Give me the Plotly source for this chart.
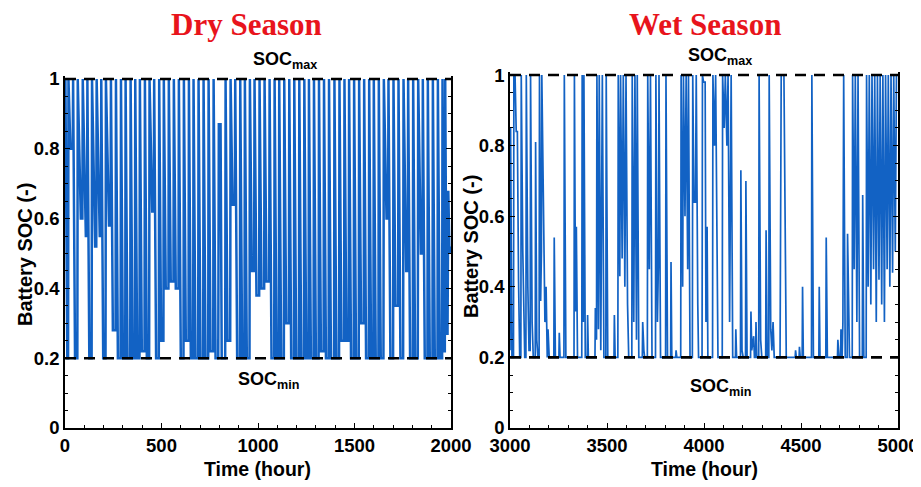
import plotly.graph_objects as go

# ---------------- data ----------------
soc_max = 1.0
soc_min = 0.2

dry_hour = [
    0, 2, 12, 16, 18, 28, 40, 42, 52, 64, 66, 82, 90, 92, 108,
    114, 116, 126, 138, 140, 156, 162, 164, 180, 186, 188, 198, 210, 212, 228,
    236, 238, 248, 262, 264, 274, 288, 290, 300, 312, 314, 324, 338, 340, 350,
    362, 364, 374, 386, 388, 398, 412, 414, 424, 436, 438, 452, 460, 462, 472,
    486, 488, 498, 510, 512, 522, 536, 538, 548, 562, 564, 574, 588, 590, 600,
    614, 616, 626, 640, 642, 652, 664, 666, 676, 690, 692, 702, 716, 718, 728,
    742, 744, 754, 768, 770, 780, 794, 797, 806, 812, 830, 832, 842,
    856, 858, 868, 880, 882, 892, 906, 908, 918, 930, 932, 942, 956, 958, 968,
    980, 982, 992, 1006, 1008, 1018, 1032, 1034, 1044, 1058, 1060, 1070, 1084, 1086, 1096,
    1108, 1110, 1120, 1134, 1136, 1146, 1160, 1162, 1172, 1186, 1188, 1198, 1212, 1214, 1224,
    1238, 1240, 1250, 1262, 1264, 1274, 1288, 1290, 1300, 1314, 1316, 1326, 1340, 1342, 1352,
    1366, 1368, 1378, 1394, 1396, 1406, 1420, 1422, 1432, 1446, 1448, 1458, 1470, 1472, 1482,
    1496, 1498, 1508, 1522, 1524, 1534, 1548, 1550, 1560, 1574, 1576, 1586, 1598, 1600, 1610,
    1624, 1626, 1636, 1650, 1652, 1666, 1674, 1676, 1686, 1700, 1702, 1712, 1726, 1728, 1738,
    1752, 1754, 1768, 1776, 1778, 1788, 1802, 1804, 1814, 1828, 1830, 1844, 1852, 1854, 1864,
    1878, 1880, 1890, 1904, 1906, 1916, 1930, 1932, 1942, 1954, 1956, 1963, 1968, 1970, 1977,
    1982, 1986, 1992, 2000,
]
dry_soc = [
    0.72, 1, 0.2, 0.2, 1, 0.8, 0.8, 1, 0.2, 0.2, 1, 0.6, 0.6, 1, 0.55,
    0.55, 1, 0.2, 0.2, 1, 0.52, 0.52, 1, 0.55, 0.55, 1, 0.2, 0.2, 1, 0.58,
    0.58, 1, 0.28, 0.28, 1, 0.2, 0.2, 1, 0.2, 0.2, 1, 0.2, 0.2, 1, 0.2,
    0.2, 1, 0.2, 0.2, 1, 0.22, 0.22, 1, 0.2, 0.2, 1, 0.62, 0.62, 1, 0.2,
    0.2, 1, 0.25, 0.25, 1, 0.4, 0.4, 1, 0.42, 0.42, 1, 0.4, 0.4, 1, 0.2,
    0.2, 1, 0.25, 0.25, 1, 0.2, 0.2, 1, 0.2, 0.2, 1, 0.2, 0.2, 1, 0.2,
    0.2, 1, 0.22, 0.22, 1, 0.2, 0.2, 0.87, 0.87, 0.2, 0.2, 1, 0.25,
    0.25, 1, 0.64, 0.64, 1, 0.2, 0.2, 1, 0.2, 0.2, 1, 0.2, 0.2, 1, 0.45,
    0.45, 1, 0.38, 0.38, 1, 0.4, 0.4, 1, 0.42, 0.42, 1, 0.2, 0.2, 1, 0.2,
    0.2, 1, 0.2, 0.2, 1, 0.3, 0.3, 1, 0.2, 0.2, 1, 0.2, 0.2, 1, 0.2,
    0.2, 1, 0.2, 0.2, 1, 0.2, 0.2, 1, 0.2, 0.2, 1, 0.22, 0.22, 1, 0.2,
    0.2, 1, 0.2, 0.2, 1, 0.2, 0.2, 1, 0.25, 0.25, 1, 0.25, 0.25, 1, 0.2,
    0.2, 1, 0.2, 0.2, 1, 0.3, 0.3, 1, 0.2, 0.2, 1, 0.2, 0.2, 1, 0.2,
    0.2, 1, 0.2, 0.2, 1, 0.6, 0.6, 1, 0.2, 0.2, 1, 0.35, 0.35, 1, 0.2,
    0.2, 1, 0.45, 0.45, 1, 0.2, 0.2, 1, 0.2, 0.2, 1, 0.5, 0.5, 1, 0.2,
    0.2, 1, 0.2, 0.2, 1, 0.2, 0.2, 1, 0.2, 0.2, 1, 0.22, 0.22, 1, 0.27,
    0.27, 0.68, 0.5, 0.52,
]

wet_hour = [
    3000, 3003, 3010, 3018, 3020, 3026, 3032, 3038, 3044, 3050,
    3056, 3058, 3066, 3070, 3076, 3082, 3084, 3092, 3098, 3104,
    3106, 3114, 3120, 3130, 3132, 3138, 3144, 3150, 3152, 3158,
    3162, 3164, 3172, 3180, 3186, 3192, 3196, 3202, 3226, 3228,
    3234, 3252, 3254, 3258, 3278, 3280, 3288, 3330, 3332, 3338,
    3342, 3348, 3370, 3372, 3378, 3381, 3388, 3398, 3400, 3404,
    3438, 3440, 3446, 3448, 3456, 3460, 3468, 3476, 3484, 3494,
    3496, 3504, 3536, 3538, 3542, 3556, 3558, 3566, 3570, 3578,
    3584, 3592, 3598, 3606, 3612, 3628, 3630, 3638, 3644, 3652,
    3656, 3664, 3682, 3684, 3690, 3694, 3708, 3710, 3718, 3724,
    3732, 3750, 3752, 3760, 3766, 3768, 3776, 3802, 3804, 3812,
    3828, 3830, 3834, 3854, 3856, 3860, 3880, 3882, 3890, 3894,
    3902, 3908, 3916, 3920, 3928, 3940, 3942, 3948, 3956, 3960,
    3968, 3972, 3990, 3992, 3998, 4006, 4010, 4016, 4020, 4044,
    4046, 4054, 4060, 4068, 4072, 4094, 4096, 4104, 4110, 4118,
    4124, 4132, 4140, 4148, 4162, 4164, 4168, 4188, 4190, 4196,
    4202, 4214, 4216, 4222, 4240, 4242, 4246, 4256, 4260, 4266,
    4268, 4272, 4282, 4284, 4292, 4298, 4318, 4320, 4326, 4334,
    4336, 4344, 4350, 4356, 4362, 4392, 4394, 4398, 4412, 4418,
    4424, 4470, 4472, 4476, 4490, 4492, 4496, 4506, 4508, 4512,
    4554, 4556, 4564, 4592, 4594, 4598, 4628, 4630, 4636, 4688,
    4690, 4696, 4704, 4706, 4712, 4716, 4720, 4728, 4738, 4740,
    4746, 4750, 4764, 4766, 4774, 4780, 4788, 4794, 4802, 4816,
    4818, 4824, 4836, 4838, 4846, 4852, 4860, 4866, 4874, 4880,
    4888, 4894, 4902, 4908, 4916, 4922, 4930, 4936, 4944, 4950,
    4958, 4964, 4972, 4978, 4986, 4992, 5000,
]
wet_soc = [
    0.22, 0.85, 0.2, 0.2, 1, 1, 0.84, 0.84, 0.42, 0.2,
    0.2, 1, 0.5, 0.35, 0.2, 0.2, 1, 0.4, 0.22, 0.22,
    1, 0.3, 0.2, 0.2, 0.81, 0.25, 0.2, 0.2, 1, 0.36,
    0.5, 1, 0.55, 0.3, 0.4, 0.2, 0.28, 0.2, 0.2, 0.54,
    0.2, 0.2, 0.27, 0.2, 0.2, 1, 0.2, 0.2, 1, 0.33,
    0.57, 0.2, 0.2, 1, 0.3, 1, 0.2, 0.2, 0.32, 0.2,
    0.2, 0.34, 0.25, 1, 0.28, 1, 0.22, 1, 0.2, 0.2,
    1, 0.2, 0.2, 0.32, 0.2, 0.2, 1, 0.43, 1, 0.48,
    1, 0.4, 1, 0.35, 0.2, 0.2, 1, 0.3, 1, 0.25,
    1, 0.2, 0.2, 0.3, 0.22, 0.2, 0.2, 1, 0.45, 1,
    0.2, 0.2, 1, 0.3, 0.5, 1, 0.2, 0.2, 1, 0.2,
    0.2, 0.47, 0.2, 0.2, 0.22, 0.2, 0.2, 1, 0.4, 1,
    0.6, 1, 0.45, 1, 0.2, 0.2, 1, 0.64, 0.64, 1,
    0.35, 0.2, 0.2, 1, 0.98, 0.98, 0.3, 0.57, 0.2, 0.2,
    1, 0.8, 1, 0.4, 0.2, 0.2, 1, 0.85, 1, 0.8,
    1, 0.3, 1, 0.2, 0.2, 0.28, 0.2, 0.2, 0.73, 0.22,
    0.2, 0.2, 0.7, 0.2, 0.2, 0.33, 0.22, 0.26, 0.2, 0.2,
    0.3, 0.2, 0.2, 1, 0.25, 0.2, 0.2, 0.56, 0.2, 0.2,
    1, 0.28, 0.22, 0.3, 0.2, 0.2, 0.92, 1, 1, 0.45,
    0.2, 0.2, 0.22, 0.2, 0.2, 0.23, 0.2, 0.2, 0.4, 0.2,
    0.2, 1, 0.2, 0.2, 0.4, 0.2, 0.2, 0.54, 0.2, 0.2,
    0.25, 0.2, 0.2, 0.28, 0.2, 0.3, 1, 0.2, 0.2, 0.55,
    0.3, 0.2, 0.2, 1, 0.45, 1, 0.3, 1, 0.2, 0.2,
    0.66, 0.2, 0.2, 1, 0.4, 1, 0.35, 1, 0.45, 1,
    0.3, 1, 0.42, 1, 0.35, 1, 0.3, 1, 0.45, 1,
    0.4, 1, 0.44, 1, 0.5, 1, 1,
]

dry_range = [0, 2000]
wet_range = [3000, 5000]
dry_ticks = [0, 500, 1000, 1500, 2000]
wet_ticks = [3000, 3500, 4000, 4500, 5000]
soc_ticks = [0, 0.2, 0.4, 0.6, 0.8, 1]
soc_tick_text = ["0", "0.2", "0.4", "0.6", "0.8", "1"]

# ---------------- figure ----------------
W, H = 921, 487
OFF = 8  # page offset of the figure inside the browser window
LINE_BLUE = "#1262c4"
SANS = "Liberation Sans, Arial, sans-serif"
SERIF = "Liberation Serif, Times New Roman, serif"


def fx(px):
    return (px - OFF) / W


def fy(py):
    return 1 - (py - OFF) / H


fig = go.Figure()
fig.add_trace(go.Scatter(x=dry_hour, y=dry_soc, mode="lines",
                         line=dict(color=LINE_BLUE, width=2.5),
                         xaxis="x", yaxis="y", showlegend=False))
fig.add_trace(go.Scatter(x=wet_hour, y=wet_soc, mode="lines",
                         line=dict(color=LINE_BLUE, width=1.7),
                         xaxis="x2", yaxis="y2", showlegend=False))

for xa, ya, rng in (("x", "y", dry_range), ("x2", "y2", wet_range)):
    for level in (soc_max, soc_min):
        fig.add_trace(go.Scatter(x=rng, y=[level, level], mode="lines",
                                 line=dict(color="black", width=2.6, dash="11px,8px"),
                                 xaxis=xa, yaxis=ya, showlegend=False))

tickfont = dict(family=SANS, size=18.5, color="black", weight="bold")


def xax(domain, rng, ticks):
    return dict(domain=domain, range=rng, tickvals=ticks, ticks="inside",
                ticklen=5, tickwidth=1.2, tickcolor="black",
                showline=True, linecolor="black", linewidth=1.5, mirror=False,
                showgrid=False, zeroline=False, tickfont=tickfont,
                minor=dict(dtick=100, tick0=rng[0], ticks="inside", ticklen=3,
                           tickcolor="black", tickwidth=1, showgrid=False))


def yax(domain):
    return dict(domain=domain, range=[0, 1.01], tickvals=soc_ticks, ticktext=soc_tick_text,
                ticks="inside", ticklen=5, tickwidth=1.2, tickcolor="black",
                showline=True, linecolor="black", linewidth=1.5, mirror="ticks",
                showgrid=False, zeroline=False, tickfont=tickfont,
                minor=dict(dtick=0.05, tick0=0, ticks="inside", ticklen=3,
                           tickcolor="black", tickwidth=1, showgrid=False))


xa1 = xax([fx(65), fx(451)], dry_range, dry_ticks)
xa1["anchor"] = "y"
ya1 = yax([fy(428), fy(75.5)])
ya1["anchor"] = "x"
xa2 = xax([fx(510), fx(898)], wet_range, wet_ticks)
xa2["anchor"] = "y2"
ya2 = yax([fy(428), fy(71.5)])
ya2["anchor"] = "x2"


def ann(text, px, py, size, family=SANS, color="black", angle=0):
    return dict(text=text, x=fx(px), y=fy(py), xref="paper", yref="paper",
                xanchor="center", yanchor="middle", showarrow=False, textangle=angle,
                font=dict(family=family, size=size, color=color))


annotations = [
    ann("<b>Dry Season</b>", 246, 24, 31, SERIF, "#e8141c"),
    ann("<b>Wet Season</b>", 705, 24, 31, SERIF, "#e8141c"),
    ann("<b>Battery SOC (-)</b>", 25, 255, 20, angle=-90),
    ann("<b>Battery SOC (-)</b>", 471, 247, 20, angle=-90),
    ann("<b>Time (hour)</b>", 257, 469, 19.5),
    ann("<b>Time (hour)</b>", 704, 469, 19.5),
    ann("<b>SOC<sub>max</sub></b>", 285, 60, 18),
    ann("<b>SOC<sub>min</sub></b>", 268, 380, 18),
    ann("<b>SOC<sub>max</sub></b>", 720, 57, 18),
    ann("<b>SOC<sub>min</sub></b>", 720, 387, 18),
]

fig.update_layout(
    width=W, height=H,
    margin=dict(l=0, r=0, t=0, b=0, autoexpand=False),
    paper_bgcolor="white", plot_bgcolor="white",
    xaxis=xa1, yaxis=ya1, xaxis2=xa2, yaxis2=ya2,
    annotations=annotations,
    showlegend=False,
)

fig.write_html("out.html")
